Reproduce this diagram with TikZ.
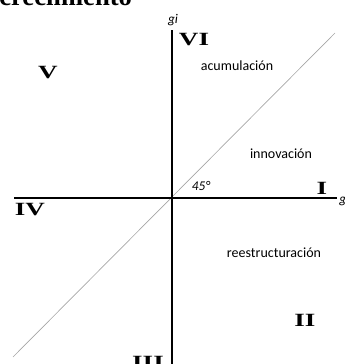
\documentclass[tikz,border=0pt]{standalone}
\usepackage{fontspec}
\setmainfont{Liberation Serif}
\newfontfamily\calibri{Carlito}
\usetikzlibrary{positioning}

\newcommand{\romnum}[1]{\scalebox{1.45}[1]{\fontsize{14}{15}\selectfont\bfseries #1}}

\begin{document}
\begin{tikzpicture}[
    x=0.75pt, y=-0.75pt,
    axis/.style={line width=1.3pt, black},
    diag/.style={line width=0.5pt, black!35},
    quad/.style={inner sep=0pt, font=\calibri\fontsize{10.5}{12}\selectfont},
    roman/.style={inner sep=0pt},
    axlabel/.style={inner sep=0pt, font=\calibri\itshape\fontsize{10}{11}\selectfont}
]
    \useasboundingbox (0,0) rectangle (345,364);
    \clip (0,0) rectangle (345,364);

    % axes
    \coordinate (o) at (172,198);
    \coordinate (ytop) at (172,30);
    \coordinate (ybot) at (172,370);
    \coordinate (xleft) at (14,198);
    \coordinate (xright) at (337,198);
    \coordinate (dtop) at (335,33);
    \coordinate (dbot) at (13,357);

    \draw[diag] (dbot) -- (dtop);
    \draw[axis] (ytop) -- (ybot);
    \draw[axis] (xleft) -- (xright);

    % title (cut at the top)
    \node[anchor=base west, inner sep=0pt, font=\fontsize{20}{22}\selectfont\bfseries] (title) at (-1,6) {crecimiento};

    % axis labels
    \node[axlabel] (gi) at (173,20) {gi};
    \node[axlabel, anchor=west] (g) at (339,201) {g};
    \node[axlabel] (ang) at (201,186) {45°};

    % regions
    \node[quad] (acum) at (237,66) {acumulación};
    \node[quad] (innov) at (281,154) {innovación};
    \node[quad] (reest) at (274,253) {reestructuración};

    % quadrant numerals
    \node[roman] (q1) at (322,188) {\romnum{I}};
    \node[roman] (q2) at (305,320) {\romnum{II}};
    \node[roman] (q3) at (148,362) {\romnum{III}};
    \node[roman] (q4) at (30,210) {\romnum{IV}};
    \node[roman] (q5) at (48,73) {\romnum{V}};
    \node[roman] (q6) at (194,40) {\romnum{VI}};
\end{tikzpicture}
\end{document}
